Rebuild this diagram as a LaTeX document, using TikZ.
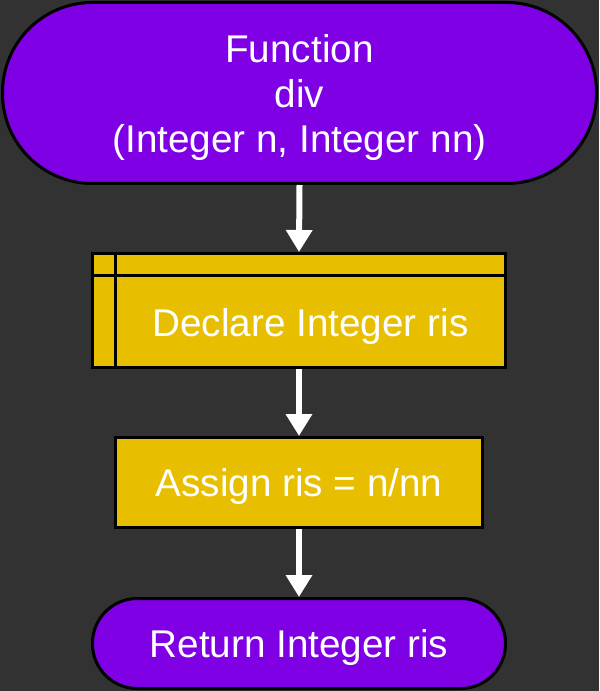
\documentclass[tikz,border=0pt]{standalone}
\usepackage{fontspec}
\setmainfont{Liberation Sans}
\usepackage{tikz}
\usetikzlibrary{arrows.meta,positioning}
\definecolor{bgdark}{RGB}{50,50,50}
\definecolor{funpurple}{RGB}{128,0,230}
\definecolor{stepyellow}{RGB}{232,190,0}

\begin{document}
\begin{tikzpicture}[x=0.75pt, y=-0.75pt,
  term/.style={draw=black, line width=2.25pt, fill=funpurple, text=white, align=center, inner sep=0pt, text depth=0pt, font=\fontsize{29}{33.75}\selectfont},
  procbox/.style={draw=black, line width=2.25pt, fill=stepyellow, text=white, inner sep=0pt, text depth=0pt, font=\fontsize{29}{33.75}\selectfont},
  flow/.style={draw=white, line width=4.5pt, -{Triangle[length=16.5pt,width=19pt]}}]
\fill[bgdark] (0,0) rectangle (599,691);
\useasboundingbox (0,0) rectangle (599,691);
% start
\node[term, minimum width=445.5pt, minimum height=135.75pt, rounded corners=67.5pt] (func) at (299.5,93) {Function\\div\\(Integer n, Integer nn)};
% declare
\node[procbox, minimum width=309.75pt, minimum height=85.5pt] (decl) at (299,310.5) {};
\draw[line width=2.25pt] ([xshift=18pt]decl.north west) -- ([xshift=18pt]decl.south west);
\draw[line width=2.25pt] ([yshift=-17.5pt]decl.north west) -- ([yshift=-17.5pt]decl.north east);
\node[text=white, inner sep=0pt, text depth=0pt, font=\fontsize{29}{33.75}\selectfont] (decllabel) at (310.5,322) {Declare Integer ris};
% assign
\node[procbox, minimum width=275.25pt, minimum height=67.5pt] (assign) at (299,482.5) {Assign ris = n/nn};
% return
\node[term, minimum width=309.75pt, minimum height=67.5pt, rounded corners=33.5pt] (ret) at (299,643.5) {Return Integer ris};
\draw[flow] (func.south) -- (decl.north);
\draw[flow] (decl.south) -- (assign.north);
\draw[flow] (assign.south) -- (ret.north);
\end{tikzpicture}
\end{document}
